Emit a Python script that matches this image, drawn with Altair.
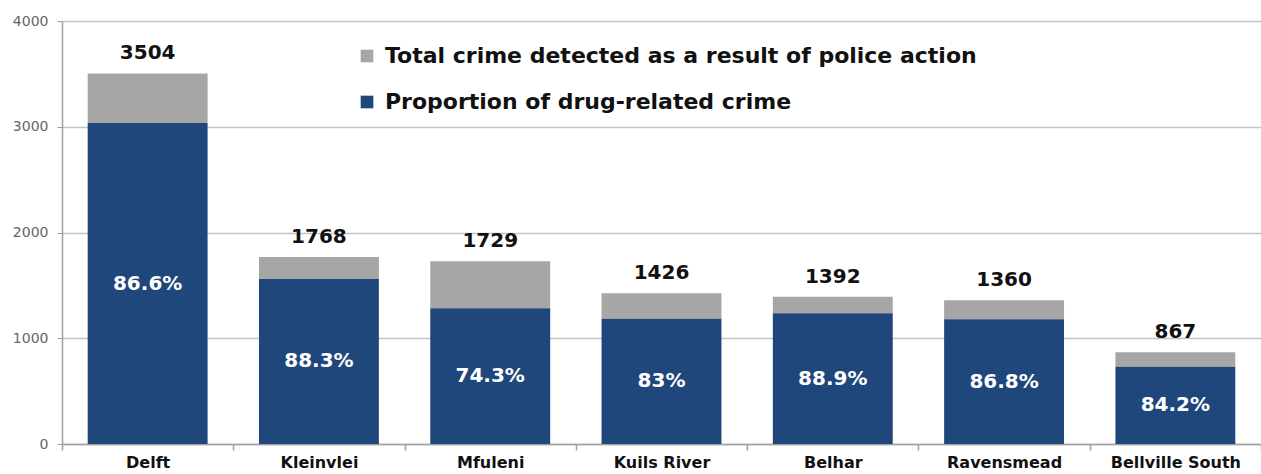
import altair as alt
import pandas as pd

districts = ["Delft", "Kleinvlei", "Mfuleni", "Kuils River", "Belhar", "Ravensmead", "Bellville South"]
totals = [3504, 1768, 1729, 1426, 1392, 1360, 867]
drug_pct = [86.6, 88.3, 74.3, 83, 88.9, 86.8, 84.2]
pct_labels = ["86.6%", "88.3%", "74.3%", "83%", "88.9%", "86.8%", "84.2%"]
series = ["Total crime detected as a result of police action", "Proportion of drug-related crime"]
colors = ["#a6a6a6", "#1f477b"]

rows = []
for d, t, p, lab in zip(districts, totals, drug_pct, pct_labels):
    drug = t * p / 100
    rows.append({"district": d, "series": series[0], "y0": drug, "y1": t, "total": t, "mid": drug / 2, "lab": lab})
    rows.append({"district": d, "series": series[1], "y0": 0, "y1": drug, "total": t, "mid": drug / 2, "lab": lab})
df = pd.DataFrame(rows)
lab_df = df[df["series"] == series[1]]

FONT = "DejaVu Sans"

x_scale = alt.Scale(paddingInner=0, paddingOuter=0)
x = alt.X("district:N", sort=districts, title=None, scale=x_scale,
          axis=alt.Axis(labelAngle=0, labelFontSize=16, labelFontWeight="bold", labelColor="#111111",
                        labelFont=FONT, labelPadding=4, labelBaseline="top", tickBand="extent", tickSize=6,
                        tickColor="#a0a0a0", domainColor="#a0a0a0", domainWidth=1.5, tickWidth=1.5))

y_scale = alt.Scale(domain=[0, 4000], nice=False)

bars = alt.Chart(df).mark_bar(width=alt.RelativeBandSize(0.7)).encode(
    x=x,
    y=alt.Y("y0:Q", scale=y_scale, title=None,
            axis=alt.Axis(values=[0, 1000, 2000, 3000, 4000], format="d", labelFontSize=14,
                          labelColor="#666666", labelFont=FONT, tickSize=5, tickColor="#a0a0a0",
                          domainColor="#a0a0a0", domainWidth=1.5, gridColor="#c4c4c4", gridWidth=1.5,
                          labelPadding=9)),
    y2="y1:Q",
    color=alt.Color("series:N", scale=alt.Scale(domain=series, range=colors), title=None,
                    legend=alt.Legend(orient="none", legendX=294, legendY=24, symbolType="square",
                                      symbolSize=160, symbolStrokeWidth=0, labelFontSize=22,
                                      labelFont=FONT, labelColor="#111111", labelFontWeight="bold",
                                      rowPadding=24, labelLimit=900, labelOffset=7)),
)

totals_text = alt.Chart(lab_df).mark_text(fontSize=20, fontWeight="bold", font=FONT, color="#111111",
                                          baseline="middle", dy=-20).encode(
    x=alt.X("district:N", sort=districts, scale=x_scale),
    y=alt.Y("total:Q", scale=y_scale),
    text=alt.Text("total:Q", format="d"),
)

pct_text = alt.Chart(lab_df).mark_text(fontSize=20, fontWeight="bold", font=FONT, color="white",
                                       baseline="middle").encode(
    x=alt.X("district:N", sort=districts, scale=x_scale),
    y=alt.Y("mid:Q", scale=y_scale),
    text="lab:N",
)

chart = alt.layer(bars, totals_text, pct_text).properties(
    width=1199, height=423,
    autosize=alt.AutoSizeParams(type="none"),
    padding={"left": 62, "top": 21, "right": 0, "bottom": 30},
).configure_view(stroke=None).configure(background="white")

chart.save("out.html", embed_options={"renderer": "svg", "actions": False})
